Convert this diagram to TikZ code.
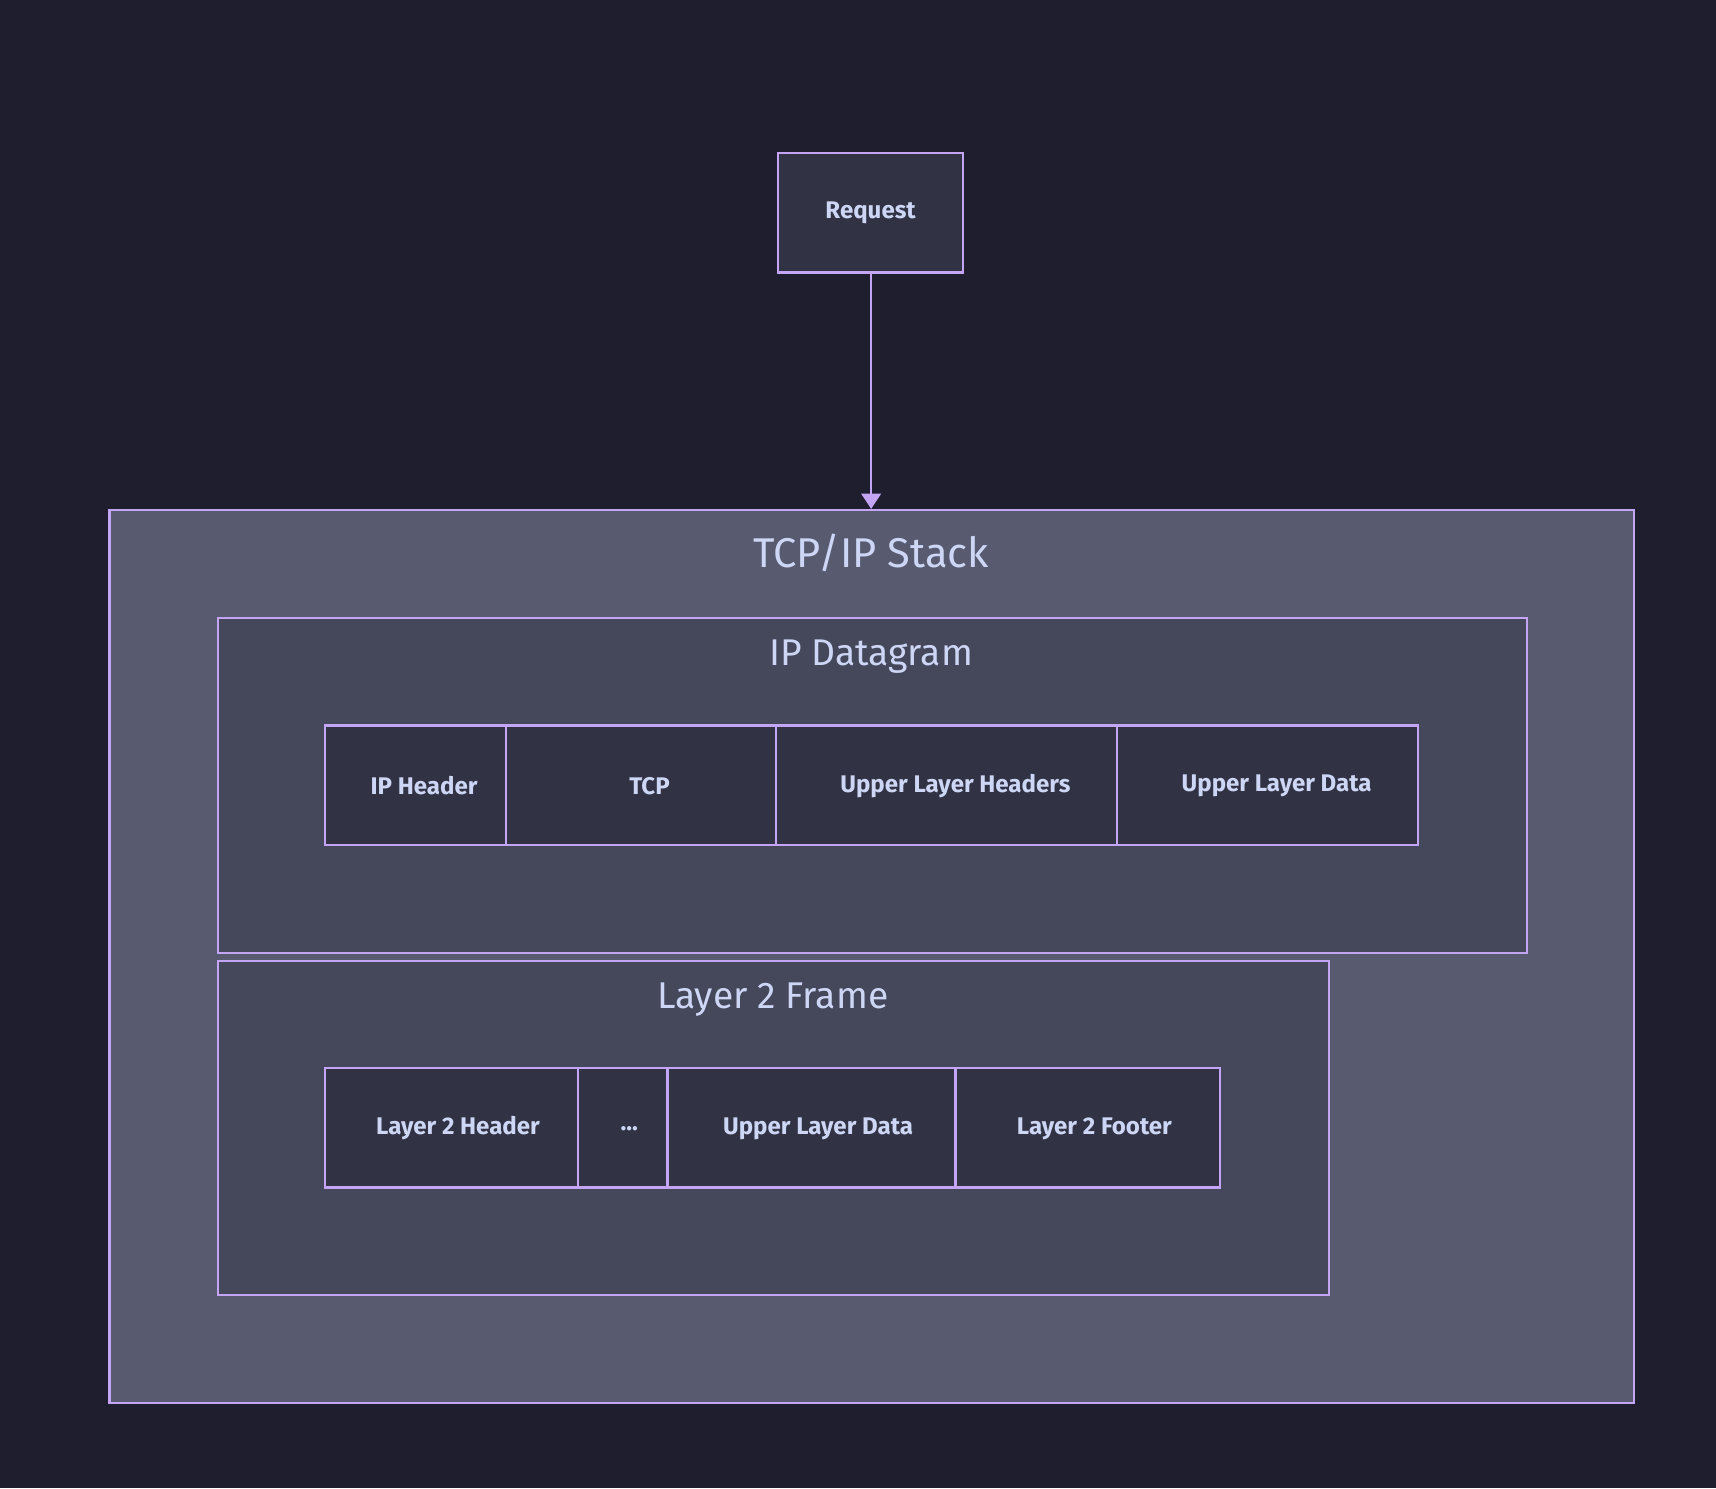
\documentclass[tikz,border=0pt]{standalone}
\usepackage{fontspec}
\setmainfont{Fira Sans}
\usetikzlibrary{arrows.meta}
\definecolor{bg}{HTML}{1E1E2E}
\definecolor{outerf}{HTML}{585B70}
\definecolor{innerf}{HTML}{45475A}
\definecolor{boxf}{HTML}{313244}
\definecolor{strk}{HTML}{C3A4F5}
\definecolor{txt}{HTML}{CDD6F4}
\begin{document}
\begin{tikzpicture}[x=1pt,y=-1pt,
  cell/.style={draw=strk,line width=2pt,fill=boxf},
  lab/.style={text=txt,font=\fontsize{22}{26}\selectfont\bfseries},
  ttl/.style={text=txt,font=\fontsize{38}{44}\selectfont},
  ttl2/.style={text=txt,font=\fontsize{34}{40}\selectfont}]
\fill[bg] (0,0) rectangle (1568,1360);
\useasboundingbox (0,0) rectangle (1568,1360);
\draw[draw=strk,line width=2pt,fill=outerf] (100,466) rectangle (1493,1282);
\node[ttl] (t1) at (796,505) {TCP/IP Stack};
\draw[draw=strk,line width=2pt,fill=innerf] (199,565) rectangle (1395,871);
\node[ttl2] (t2) at (796,600) {IP Datagram};
\draw[draw=strk,line width=2pt,fill=innerf] (199,878) rectangle (1214,1183);
\node[ttl2] (t3) at (706,913) {Layer 2 Frame};
\draw[cell] (711,140) rectangle (880,249);
\node[lab] (req) at (795.5,194.5) {Request};
\coordinate (rb) at (796,249);
\coordinate (ot) at (796,465);
\draw[strk,line width=2pt,-{Triangle[length=14pt,width=18pt]}] (rb) -- (ot);
\foreach \a/\b/\t in {297/462/IP Header,462/709/TCP/UDP Header,709/1021/Upper Layer Headers,1021/1296/Upper Layer Data}{
  \draw[cell] (\a,663) rectangle (\b,772);
  \node[lab] at ({(\a+\b)/2+8},718) {\t};}
\foreach \a/\b/\t in {297/528/Layer 2 Header,528/610/{...},610/873/Upper Layer Data,873/1115/Layer 2 Footer}{
  \draw[cell] (\a,976) rectangle (\b,1085);
  \node[lab] at ({(\a+\b)/2+6},1031) {\t};}
\end{tikzpicture}
\end{document}
